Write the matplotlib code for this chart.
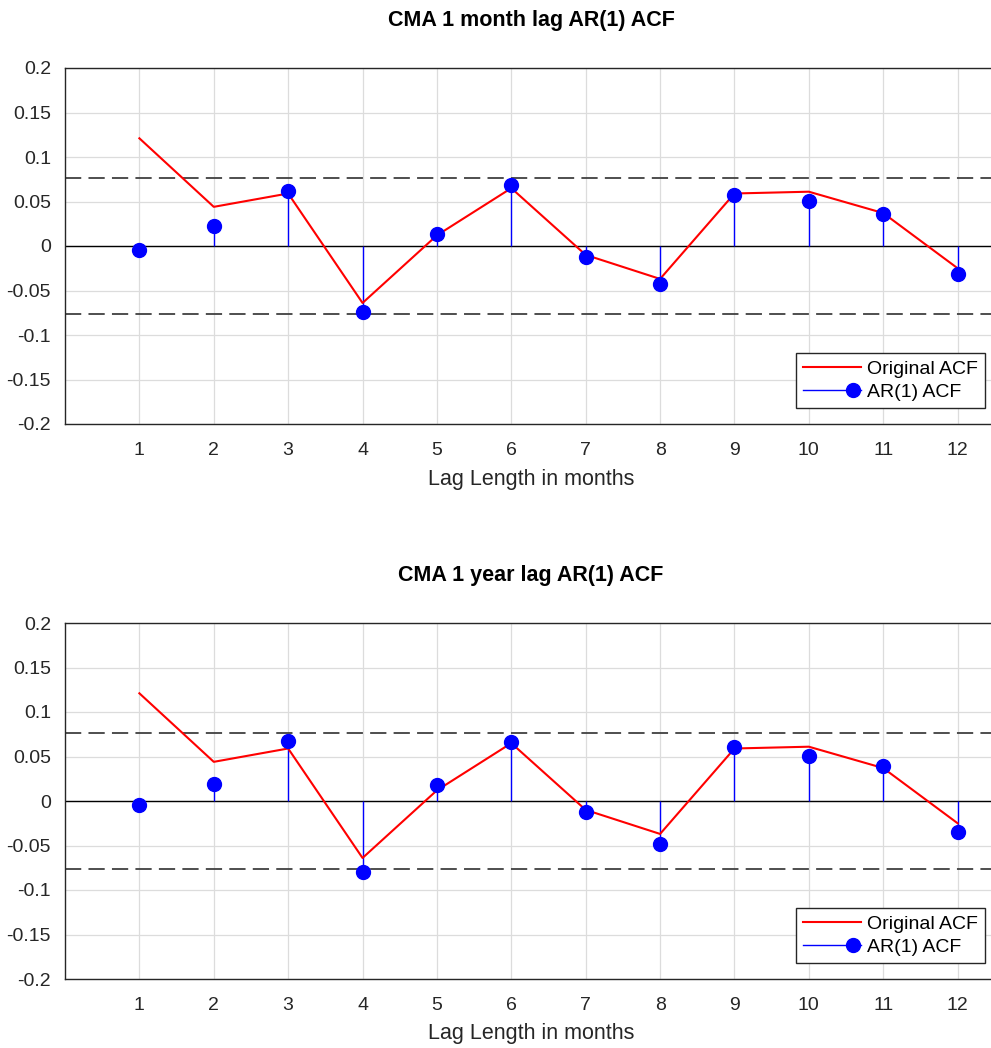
import matplotlib
matplotlib.use('Agg')
import matplotlib.pyplot as plt
from matplotlib.lines import Line2D
from matplotlib.legend_handler import HandlerBase

plt.rcParams['font.family'] = ['Liberation Sans', 'DejaVu Sans']

# Данные
lags = [1, 2, 3, 4, 5, 6, 7, 8, 9, 10, 11, 12]
original_acf = [0.121, 0.044, 0.059, -0.064, 0.012, 0.065, -0.010, -0.037, 0.059, 0.061, 0.037, -0.025]
ar1_month = [-0.004, 0.023, 0.062, -0.074, 0.013, 0.068, -0.012, -0.043, 0.057, 0.051, 0.036, -0.031]
ar1_year = [-0.004, 0.019, 0.067, -0.080, 0.018, 0.066, -0.012, -0.048, 0.061, 0.051, 0.039, -0.035]
conf_bound = 0.0764
titles = ['CMA 1 month lag AR(1) ACF', 'CMA 1 year lag AR(1) ACF']
xlabel = 'Lag Length in months'
yticks = [-0.2, -0.15, -0.1, -0.05, 0, 0.05, 0.1, 0.15, 0.2]
ytick_labels = ['-0.2', '-0.15', '-0.1', '-0.05', '0', '0.05', '0.1', '0.15', '0.2']


class StemHandler(HandlerBase):
    # линия с маркером справа, как в легенде stem
    def create_artists(self, legend, orig, xd, yd, w, h, fontsize, trans):
        y = h / 2 - yd
        line = Line2D([-xd, w - xd], [y, y], color='blue', lw=1, transform=trans)
        mk = Line2D([-xd + 0.85 * w], [y], marker='o', markersize=10, color='blue',
                    linestyle='none', transform=trans)
        return [line, mk]


W, H = 991, 1048
fig = plt.figure(figsize=(W / 100, H / 100), dpi=100)

panels = [(68, 424, ar1_month), (623, 979, ar1_year)]
for (top, bottom, ar1), title in zip(panels, titles):
    ax = fig.add_axes([65 / W, 1 - bottom / H, 967 / W, (bottom - top) / H])
    ax.set_xlim(0, 13)
    ax.set_ylim(-0.2, 0.2)

    ax.axhline(0, color='black', lw=1, zorder=2)
    ax.axhline(conf_bound, color='#404040', lw=1.3, ls=(0, (9, 4)), zorder=2)
    ax.axhline(-conf_bound, color='#404040', lw=1.3, ls=(0, (9, 4)), zorder=2)

    ax.vlines(lags, 0, ar1, color='blue', lw=1, zorder=3)
    ax.plot(lags, original_acf, color='red', lw=1.5, zorder=4)
    ax.plot(lags, ar1, 'o', color='blue', markersize=10, zorder=5)

    ax.set_xticks(lags)
    ax.set_yticks(yticks)
    ax.set_yticklabels(ytick_labels)
    ax.tick_params(labelsize=14, length=0, colors='#262626')
    ax.tick_params(axis='x', pad=13)
    ax.tick_params(axis='y', pad=10)
    ax.grid(True, color='#dcdcdc', lw=0.9)
    ax.set_axisbelow(True)
    for s in ax.spines.values():
        s.set_color('#262626')
        s.set_linewidth(1)

    ax.set_title(title, fontsize=15.5, fontweight='bold', pad=30, x=0.482)
    ax.set_xlabel(xlabel, fontsize=15.5, color='#262626')
    ax.xaxis.set_label_coords(0.482, -0.125)

    handles = [Line2D([], [], color='red', lw=1.5), object()]
    leg = ax.legend(handles, ['Original ACF', 'AR(1) ACF'],
                    handler_map={object: StemHandler()},
                    loc='lower right', bbox_to_anchor=(985 / W, 1 - (bottom - 16) / H),
                    bbox_transform=fig.transFigure, fontsize=14, fancybox=False,
                    framealpha=1, edgecolor='#262626', handlelength=3.0,
                    borderpad=0.35, labelspacing=0.3, handletextpad=0.3,
                    borderaxespad=0)
    leg.get_frame().set_linewidth(1)

fig.savefig('out.png', dpi=100)
